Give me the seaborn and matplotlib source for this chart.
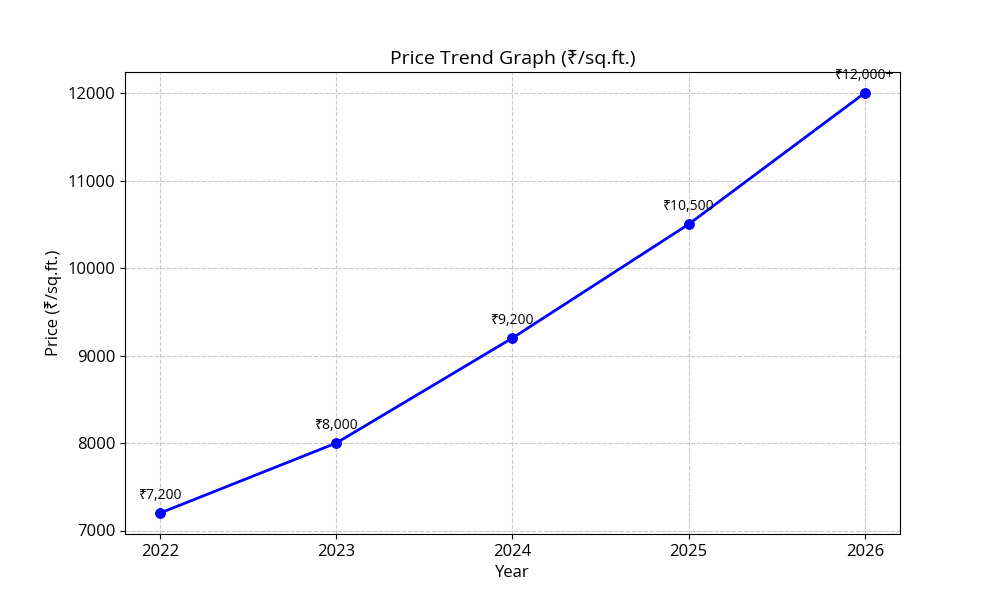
import matplotlib
matplotlib.use("Agg")
import matplotlib.pyplot as plt
import seaborn as sns
import pandas as pd

years = [2022, 2023, 2024, 2025, 2026]
prices = [7200, 8000, 9200, 10500, 12000]
labels = ["₹7,200", "₹8,000", "₹9,200", "₹10,500", "₹12,000+"]

plt.rcParams['font.family'] = ['Open Sans', 'Noto Sans', 'DejaVu Sans']

df = pd.DataFrame({"Year": years, "Price": prices})

fig, ax = plt.subplots(figsize=(10, 6), dpi=100)
sns.lineplot(data=df, x="Year", y="Price", ax=ax, color="blue", marker="o",
             markersize=7, markeredgecolor="blue", linewidth=2)

for x, y, t in zip(years, prices, labels):
    ax.annotate(t, (x, y), textcoords="offset points", xytext=(0, 10),
                ha="center", fontsize=10)

ax.set_title("Price Trend Graph (₹/sq.ft.)", fontsize=14)
ax.set_xlabel("Year", fontsize=12)
ax.set_ylabel("Price (₹/sq.ft.)", fontsize=12)
ax.set_xticks(years)
ax.tick_params(labelsize=12)
ax.grid(True, linestyle="--", alpha=0.7)

fig.savefig("out.png", dpi=100)
